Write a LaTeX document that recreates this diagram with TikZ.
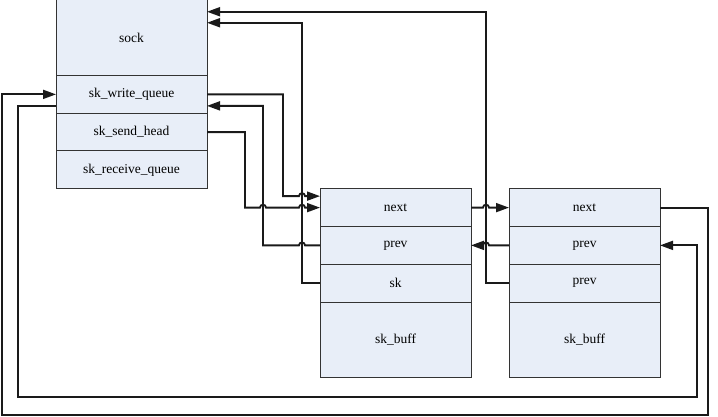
\documentclass[tikz,border=0pt]{standalone}
\usepackage{fontspec}
\setmainfont{Liberation Serif}
\usepackage{xcolor}
\definecolor{BoxBlue}{HTML}{E8EEF8}
\definecolor{BoxGrey}{HTML}{333333}
\definecolor{LinkGrey}{HTML}{1A1A1A}
\usepackage{tikz}
\usetikzlibrary{calc,arrows.meta,positioning}
\newcommand\BoxWidth{151pt}
\newcommand\RowHeight{37.75pt}
\newcommand\BigHeight{75.5pt}
\newcommand\Hop{3pt}
\newcommand\hopR[1]{-- ($(#1)+(-\Hop,0)$) arc[start angle=180,end angle=0,radius=\Hop]}
\newcommand\hopL[1]{-- ($(#1)+(\Hop,0)$) arc[start angle=0,end angle=180,radius=\Hop]}
\tikzstyle{field}=[rectangle,draw=BoxGrey,fill=BoxBlue,line width=1pt,outer sep=0pt,
                     inner sep=0pt,minimum width=\BoxWidth,minimum height=\RowHeight,
                     font=\fontsize{13.5}{15}\selectfont]
\tikzstyle{bigfield}=[field,minimum height=\BigHeight]
\tikzstyle{link}=[line width=1.8pt,draw=LinkGrey,-{Triangle[length=13pt,width=9pt]}]
\begin{document}
\begin{tikzpicture}
      \useasboundingbox (0pt,0pt) rectangle (718pt,-417pt);
      \node[bigfield] (sock) at (131.5pt,-37.75pt) {sock};
      \node[field,below=0pt of sock] (wq) {sk\_write\_queue};
      \node[field,below=0pt of wq] (sh) {sk\_send\_head};
      \node[field,below=0pt of sh] (rq) {sk\_receive\_queue};
      \node[field] (n1) at (395.5pt,-207.63pt) {next};
      \node[field,below=0pt of n1] (p1) {prev};
      \node[field,below=0pt of p1] (s1) {sk};
      \node[bigfield,below=0pt of s1] (b1) {sk\_buff};
      \node[field] (n2) at (584.5pt,-207.63pt) {next};
      \node[field,below=0pt of n2] (p2) {prev};
      \node[field,below=0pt of p2] (q2) {prev};
      \node[bigfield,below=0pt of q2] (b2) {sk\_buff};
      \coordinate (shLane) at (245pt,0pt);
      \coordinate (prLane) at (263pt,0pt);
      \coordinate (wqLane) at (283pt,0pt);
      \coordinate (skLane) at (302pt,0pt);
      \coordinate (qLane) at (486pt,0pt);
      \coordinate (outerBL) at (2pt,-415pt);
      \coordinate (outerBR) at (708pt,-415pt);
      \coordinate (innerBL) at (18pt,-397pt);
      \coordinate (innerBR) at (697pt,-397pt);
      \coordinate (n1top) at ([yshift=11.5pt]n1.west);
      \coordinate (wqin) at ([yshift=-11.5pt]wq.east);
      \coordinate (wqout) at ([yshift=-11.5pt]wq.west);
      \coordinate (sockmid) at ([yshift=15pt]sock.east);
      \coordinate (socktop) at ([yshift=26pt]sock.east);
      \draw[link] (wq.east) -| (wqLane |- n1top) \hopR{skLane |- n1top} -- (n1top);
      \draw[link] (sh.east) -| (shLane |- n1.west) \hopR{prLane |- n1.west} \hopR{skLane |- n1.west} -- (n1.west);
      \draw[link] (p1.west) \hopL{skLane |- p1.west} -| (prLane |- wqin) -- (wqin);
      \draw[link] (s1.west) -| (skLane |- sockmid) -- (sockmid);
      \draw[link] (q2.west) -| (qLane |- socktop) -- (socktop);
      \draw[link] (n1.east) \hopR{qLane |- n1.east} -- (n2.west);
      \draw[link] (p2.west) \hopL{qLane |- p2.west} -- (p1.east);
      \draw[link] (n2.east) -| (outerBR) -- (outerBL) |- (wq.west);
      \draw[link] (wqout) -| (innerBL) -- (innerBR) |- (p2.east);
\end{tikzpicture}
\end{document}
